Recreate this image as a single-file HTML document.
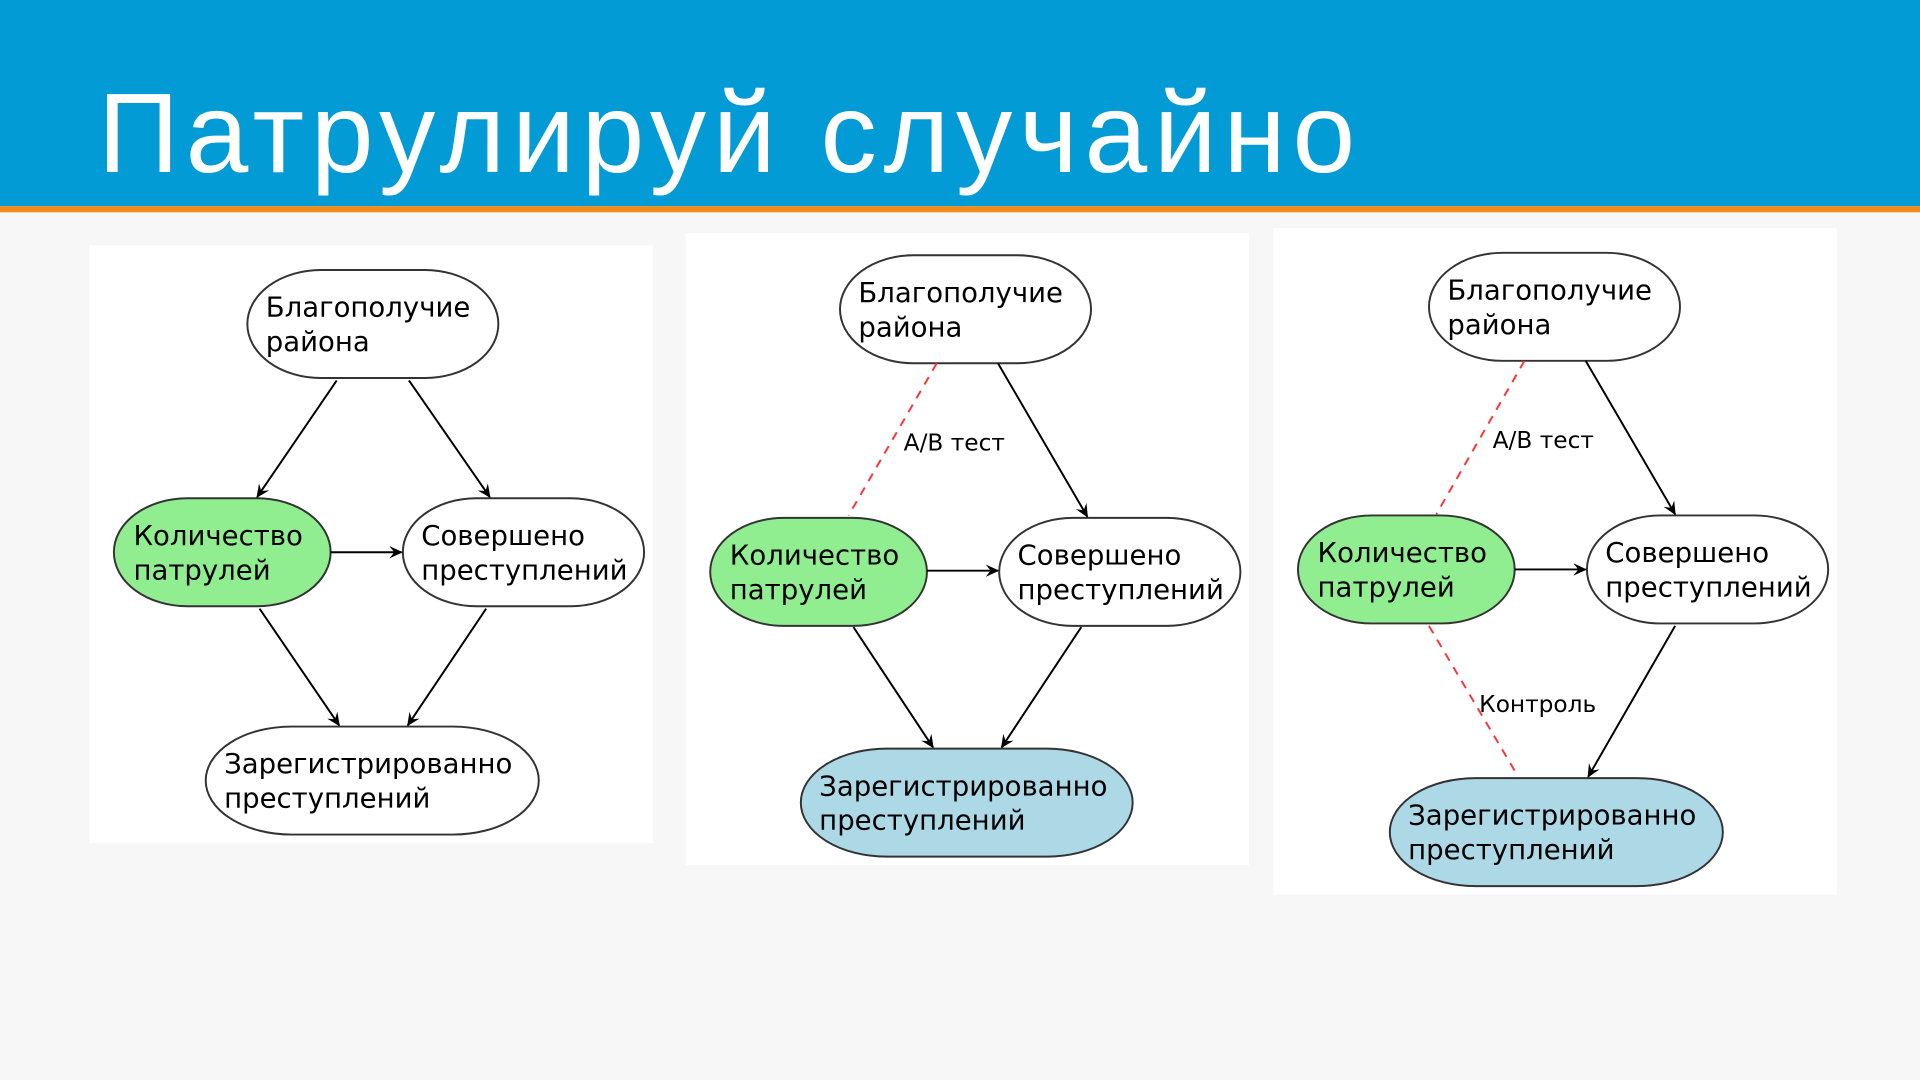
<!DOCTYPE html>
<html><head><meta charset="utf-8"><style>
html,body{margin:0;padding:0;width:1920px;height:1080px;overflow:hidden;background:#f7f7f7}
svg{display:block}
text{font-family:"DejaVu Sans","Liberation Sans",sans-serif}
</style></head><body>
<svg width="1920" height="1080" viewBox="0 0 1568 880" preserveAspectRatio="none" xmlns="http://www.w3.org/2000/svg">
<defs>
<marker id="a" markerWidth="12" markerHeight="12" refX="10" refY="5" orient="auto" markerUnits="userSpaceOnUse"><path d="M0,0 L11,5 L0,10 L4,5 z" fill="#000"/></marker>
</defs>
<rect x="0" y="0" width="1568" height="168" fill="#039bd6"/>
<rect x="0" y="168" width="1568" height="5" fill="#f08c1c"/>
<text x="80" y="140" font-size="92" fill="#fff" style="font-family:'Liberation Sans',sans-serif;letter-spacing:5.5px">Патрулируй случайно</text>

<rect x="73" y="200" width="460" height="487" fill="#fff"/>
<rect x="560" y="190" width="460" height="515" fill="#fff"/>
<rect x="1040" y="186" width="460" height="543" fill="#fff"/>

<g stroke="#333" stroke-width="1.6">
<rect x="202" y="220" width="205" height="88" rx="60" ry="44" fill="#fff"/>
<rect x="93" y="406" width="177" height="88" rx="60" ry="44" fill="#90ee90"/>
<rect x="329" y="406" width="197" height="88" rx="60" ry="44" fill="#fff"/>
<rect x="168" y="592" width="272" height="88" rx="70" ry="44" fill="#fff"/>
<rect x="686" y="208" width="205" height="88" rx="60" ry="44" fill="#fff"/>
<rect x="580" y="422" width="177" height="88" rx="60" ry="44" fill="#90ee90"/>
<rect x="816" y="422" width="197" height="88" rx="60" ry="44" fill="#fff"/>
<rect x="654" y="610" width="271" height="88" rx="70" ry="44" fill="#add8e6"/>
<rect x="1167" y="206" width="205" height="88" rx="60" ry="44" fill="#fff"/>
<rect x="1060" y="420" width="177" height="88" rx="60" ry="44" fill="#90ee90"/>
<rect x="1296" y="420" width="197" height="88" rx="60" ry="44" fill="#fff"/>
<rect x="1135" y="634" width="272" height="88" rx="70" ry="44" fill="#add8e6"/>
</g>

<g stroke="#000" stroke-width="1.6" marker-end="url(#a)">
<line x1="275" y1="310" x2="210" y2="405"/>
<line x1="334" y1="310" x2="400" y2="405"/>
<line x1="270" y1="450" x2="328" y2="450"/>
<line x1="212" y1="496" x2="277" y2="591"/>
<line x1="397" y1="496" x2="333" y2="591"/>
<line x1="815" y1="296" x2="888" y2="421"/>
<line x1="757" y1="465" x2="815" y2="465"/>
<line x1="697" y1="511" x2="762" y2="609"/>
<line x1="883" y1="511" x2="818" y2="609"/>
<line x1="1295" y1="294" x2="1368" y2="419"/>
<line x1="1237" y1="464" x2="1295" y2="464"/>
<line x1="1368" y1="510" x2="1297" y2="633"/>
</g>
<g stroke="#ff3333" stroke-width="1.6" stroke-dasharray="7,6">
<line x1="765" y1="296" x2="693" y2="420"/>
<line x1="1245" y1="294" x2="1173" y2="419"/>
<line x1="1167" y1="510" x2="1240" y2="633"/>
</g>

<g font-size="22.5" fill="#000">
<text x="217" y="258">Благополучие</text><text x="217" y="286">района</text>
<text x="109" y="444">Количество</text><text x="109" y="472">патрулей</text>
<text x="344" y="444">Совершено</text><text x="344" y="472">преступлений</text>
<text x="183" y="630">Зарегистрированно</text><text x="183" y="658">преступлений</text>
<text x="701" y="246">Благополучие</text><text x="701" y="274">района</text>
<text x="596" y="460">Количество</text><text x="596" y="488">патрулей</text>
<text x="831" y="460">Совершено</text><text x="831" y="488">преступлений</text>
<text x="669" y="648">Зарегистрированно</text><text x="669" y="676">преступлений</text>
<text x="1182" y="244">Благополучие</text><text x="1182" y="272">района</text>
<text x="1076" y="458">Количество</text><text x="1076" y="486">патрулей</text>
<text x="1311" y="458">Совершено</text><text x="1311" y="486">преступлений</text>
<text x="1150" y="672">Зарегистрированно</text><text x="1150" y="700">преступлений</text>
</g>
<g font-size="19" fill="#000">
<text x="738" y="367">A/B тест</text>
<text x="1219" y="365">A/B тест</text>
<text x="1208" y="580">Контроль</text>
</g>
</svg>
</body></html>
